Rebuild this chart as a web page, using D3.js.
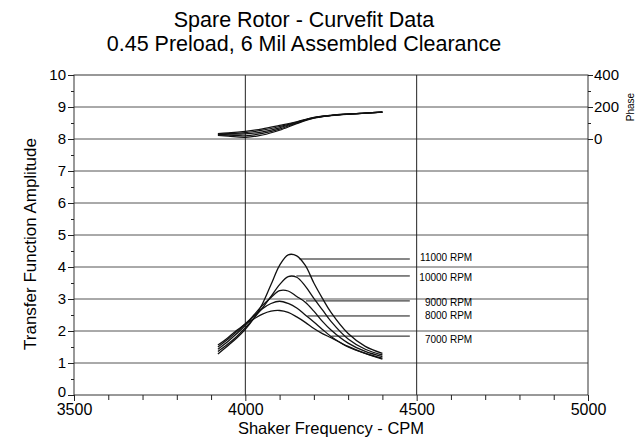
<!DOCTYPE html>
<html>
<head>
<meta charset="utf-8">
<script src="https://cdn.jsdelivr.net/npm/d3@7"></script>
<style>
  body { margin: 0; background: #fff; }
  svg { display: block; font-family: "Liberation Sans", Arial, Helvetica, sans-serif; }
</style>
</head>
<body>
<div id="viz"></div>
<script>
let w = 643;
let h = 439;
let plotLeft = 74;
let plotRight = 588;
let plotTop = 75;
let plotBottom = 395;

// amplitude curves, all sampled on the same frequencies
let freqs = [3920, 3950, 3975, 4000, 4025, 4050, 4075, 4100, 4125, 4150, 4175, 4200, 4225, 4250, 4300, 4350, 4400];
let amp11000 = [1.28, 1.55, 1.78, 2.05, 2.40, 2.85, 3.45, 4.05, 4.38, 4.35, 4.05, 3.50, 3.02, 2.58, 1.92, 1.52, 1.30];
let amp10000 = [1.36, 1.60, 1.83, 2.10, 2.40, 2.72, 3.08, 3.45, 3.70, 3.68, 3.40, 3.02, 2.66, 2.30, 1.75, 1.43, 1.25];
let amp9000  = [1.43, 1.68, 1.92, 2.18, 2.50, 2.80, 3.05, 3.26, 3.25, 3.08, 2.90, 2.62, 2.30, 2.03, 1.62, 1.36, 1.20];
let amp8000  = [1.50, 1.75, 1.98, 2.23, 2.47, 2.70, 2.86, 2.93, 2.86, 2.72, 2.50, 2.28, 2.05, 1.83, 1.50, 1.30, 1.15];
let amp7000  = [1.56, 1.80, 2.02, 2.22, 2.38, 2.53, 2.62, 2.64, 2.58, 2.44, 2.27, 2.08, 1.92, 1.79, 1.52, 1.30, 1.12];

// phase curves (right axis)
let phaseFreqs = [3920, 3950, 4000, 4050, 4100, 4150, 4200, 4250, 4300, 4350, 4400];
let phase11000 = [22, 18, 10, 25, 55, 96, 130, 146, 155, 161, 168];
let phase10000 = [26, 24, 20, 35, 62, 100, 132, 147, 155, 162, 168];
let phase9000  = [28, 30, 32, 45, 70, 103, 133, 147, 156, 162, 168];
let phase8000  = [32, 34, 40, 55, 78, 106, 134, 148, 156, 162, 168];
let phase7000  = [34, 38, 48, 63, 85, 108, 135, 148, 156, 162, 168];

// labels and their leader lines
let rpmNames = ["11000 RPM", "10000 RPM", "9000 RPM", "8000 RPM", "7000 RPM"];
let leaderAmp = [4.25, 3.72, 2.94, 2.47, 1.84];
let leaderFrom = [4158, 4149, 4177, 4181, 4251];
let leaderTo = 4480;
let labelAmp = [4.30, 3.68, 2.90, 2.47, 1.75];
let labelFreq = 4662;

let xTicks = [3500, 4000, 4500, 5000];
let xMinor = [3600, 3700, 3800, 3900, 4100, 4200, 4300, 4400, 4600, 4700, 4800, 4900];
let yTicks = [0, 1, 2, 3, 4, 5, 6, 7, 8, 9, 10];
let yMinor = [0.5, 1.5, 2.5, 3.5, 4.5, 5.5, 6.5, 7.5, 8.5, 9.5];
let phaseTicks = [0, 200, 400];
let phaseMinor = [100, 300];

let viz = d3.select("#viz")
  .append("svg")
    .attr("width", w)
    .attr("height", h)
    .style("background-color", "white");

let xScale = d3.scaleLinear().domain([3500, 5000]).range([plotLeft, plotRight]);
let yScale = d3.scaleLinear().domain([0, 10]).range([plotBottom, plotTop]);
// 0..400 on the right sits on 8..10 of the left axis
let phaseScale = d3.scaleLinear().domain([-1600, 400]).range([plotBottom, plotTop]);

// titles
viz.append("text")
  .attr("x", 304).attr("y", 27)
  .attr("text-anchor", "middle")
  .attr("font-size", "21.5px")
  .text("Spare Rotor - Curvefit Data");
viz.append("text")
  .attr("x", 304).attr("y", 51)
  .attr("text-anchor", "middle")
  .attr("font-size", "21.5px")
  .text("0.45 Preload, 6 Mil Assembled Clearance");

// grid
let grid = viz.append("g").attr("class", "grid");
grid.selectAll(".hgrid")
  .data(yTicks.filter(d => d > 0 && d < 10))
  .enter()
  .append("line")
    .attr("x1", plotLeft).attr("x2", plotRight)
    .attr("y1", d => yScale(d)).attr("y2", d => yScale(d))
    .attr("stroke", "#555")
    .attr("stroke-width", 1);
grid.selectAll(".vgrid")
  .data(xTicks.filter(d => d > 3500 && d < 5000))
  .enter()
  .append("line")
    .attr("x1", d => xScale(d)).attr("x2", d => xScale(d))
    .attr("y1", plotTop).attr("y2", plotBottom)
    .attr("stroke", "#222")
    .attr("stroke-width", 1);

// frame
viz.append("rect")
  .attr("x", plotLeft).attr("y", plotTop)
  .attr("width", plotRight - plotLeft).attr("height", plotBottom - plotTop)
  .attr("fill", "none")
  .attr("stroke", "#333")
  .attr("stroke-width", 1);

function styleAxis(g, size){
  g.select(".domain").remove();
  g.selectAll(".tick line").attr("stroke", "#222");
  g.selectAll(".tick text")
    .attr("fill", "black")
    .attr("font-family", "Liberation Sans, Arial, sans-serif")
    .attr("font-size", size);
}

// left axis
let yAxisGroup = viz.append("g").attr("transform", "translate(" + plotLeft + ",0)");
yAxisGroup.call(d3.axisLeft(yScale).tickValues(yTicks).tickSize(6).tickSizeOuter(0).tickPadding(2).tickFormat(d3.format("d")));
styleAxis(yAxisGroup, "15px");
// the 0 label sits just above the 3500 label
yAxisGroup.selectAll(".tick text").filter(d => d === 0).attr("dy", "0.12em");
let yMinorGroup = viz.append("g").attr("transform", "translate(" + plotLeft + ",0)");
yMinorGroup.call(d3.axisLeft(yScale).tickValues(yMinor).tickSize(3).tickFormat(""));
styleAxis(yMinorGroup, "15px");

// bottom axis
let xAxisGroup = viz.append("g").attr("transform", "translate(0," + plotBottom + ")");
xAxisGroup.call(d3.axisBottom(xScale).tickValues(xTicks).tickSize(6).tickSizeOuter(0).tickPadding(3).tickFormat(d3.format("d")));
styleAxis(xAxisGroup, "16px");
let xMinorGroup = viz.append("g").attr("transform", "translate(0," + plotBottom + ")");
xMinorGroup.call(d3.axisBottom(xScale).tickValues(xMinor).tickSize(5).tickFormat(""));
styleAxis(xMinorGroup, "16px");

// right (phase) axis
let pAxisGroup = viz.append("g").attr("transform", "translate(" + plotRight + ",0)");
pAxisGroup.call(d3.axisRight(phaseScale).tickValues(phaseTicks).tickSize(5).tickSizeOuter(0).tickPadding(1).tickFormat(d3.format("d")));
styleAxis(pAxisGroup, "15px");
let pMinorGroup = viz.append("g").attr("transform", "translate(" + plotRight + ",0)");
pMinorGroup.call(d3.axisRight(phaseScale).tickValues(phaseMinor).tickSize(3).tickFormat(""));
styleAxis(pMinorGroup, "15px");

// axis titles
viz.append("text")
  .attr("transform", "translate(36," + ((plotTop + plotBottom) / 2 + 9) + ") rotate(-90)")
  .attr("text-anchor", "middle")
  .attr("font-size", "17px")
  .text("Transfer Function Amplitude");
viz.append("text")
  .attr("x", (plotLeft + plotRight) / 2).attr("y", 434)
  .attr("text-anchor", "middle")
  .attr("font-size", "16.5px")
  .text("Shaker Frequency - CPM");
viz.append("text")
  .attr("transform", "translate(634," + phaseScale(200) + ") rotate(-90)")
  .attr("text-anchor", "middle")
  .attr("font-size", "10px")
  .text("Phase");

// curves
let ampSeries = [amp11000, amp10000, amp9000, amp8000, amp7000];
let phaseSeries = [phase11000, phase10000, phase9000, phase8000, phase7000];

let ampLine = d3.line()
  .x((d, i) => xScale(freqs[i]))
  .y(d => yScale(d))
  .curve(d3.curveCatmullRom.alpha(0.5));

let phaseLine = d3.line()
  .x((d, i) => xScale(phaseFreqs[i]))
  .y(d => phaseScale(d))
  .curve(d3.curveCatmullRom.alpha(0.5));

let curves = viz.append("g").attr("class", "curves");
curves.selectAll(".amp")
  .data(ampSeries)
  .enter()
  .append("path")
    .attr("class", "amp")
    .attr("d", ampLine)
    .attr("fill", "none")
    .attr("stroke", "#111")
    .attr("stroke-width", 1.3);

curves.selectAll(".phase")
  .data(phaseSeries)
  .enter()
  .append("path")
    .attr("class", "phase")
    .attr("d", phaseLine)
    .attr("fill", "none")
    .attr("stroke", "#111")
    .attr("stroke-width", 1.2);

// leaders + labels
let labels = viz.append("g").attr("class", "labels");
labels.selectAll("line")
  .data(rpmNames)
  .enter()
  .append("line")
    .attr("x1", (d, i) => xScale(leaderFrom[i]))
    .attr("x2", xScale(leaderTo))
    .attr("y1", (d, i) => yScale(leaderAmp[i]))
    .attr("y2", (d, i) => yScale(leaderAmp[i]))
    .attr("stroke", "#111")
    .attr("stroke-width", 1);

labels.selectAll("text")
  .data(rpmNames)
  .enter()
  .append("text")
    .attr("x", xScale(labelFreq))
    .attr("y", (d, i) => yScale(labelAmp[i]))
    .attr("dy", "0.35em")
    .attr("text-anchor", "end")
    .attr("font-size", "10px")
    .text(d => d);
</script>
</body>
</html>
